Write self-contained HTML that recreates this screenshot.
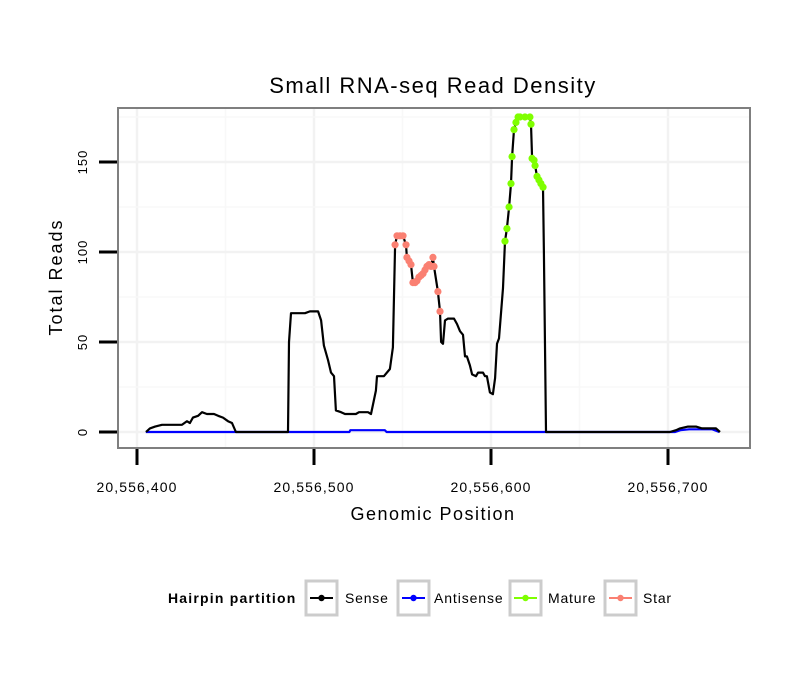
<!DOCTYPE html>
<html><head><meta charset="utf-8">
<style>
body{margin:0;background:#fff;}
svg text{font-family:"Liberation Sans",sans-serif;}
</style></head>
<body>
<svg id="chart" width="810" height="690" xmlns="http://www.w3.org/2000/svg">
<rect width="810" height="690" fill="#fff"/>
<text x="433" y="93" font-size="22" letter-spacing="1.5" text-anchor="middle" fill="#000">Small RNA-seq Read Density</text>
<g id="grid"></g>
<g id="series"></g>
<rect x="118" y="108" width="632" height="340" fill="none" stroke="#7f7f7f" stroke-width="2"/>
<g id="axes"></g>
<text x="433" y="520" font-size="18" letter-spacing="1.5" text-anchor="middle">Genomic Position</text>
<text transform="translate(62,277) rotate(-90)" font-size="18" letter-spacing="2" text-anchor="middle">Total Reads</text>
<g>
<text x="168" y="603" font-size="14" letter-spacing="1.2" font-weight="bold">Hairpin partition</text>
<g>
<rect x="306" y="581" width="31" height="34" fill="#fff" stroke="#cccccc" stroke-width="3"/>
<line x1="310" y1="598" x2="333" y2="598" stroke="#000" stroke-width="2"/><circle cx="321.5" cy="598" r="3.2" fill="#000"/>
<text x="345" y="603" font-size="14" letter-spacing="0.8">Sense</text></g>
<g>
<rect x="398" y="581" width="31" height="34" fill="#fff" stroke="#cccccc" stroke-width="3"/>
<line x1="402" y1="598" x2="425" y2="598" stroke="#0000ff" stroke-width="2"/><circle cx="413.5" cy="598" r="3.2" fill="#0000ff"/>
<text x="434" y="603" font-size="14" letter-spacing="0.9">Antisense</text></g>
<g>
<rect x="510" y="581" width="31" height="34" fill="#fff" stroke="#cccccc" stroke-width="3"/>
<line x1="514" y1="598" x2="537" y2="598" stroke="#7fff00" stroke-width="2"/><circle cx="525.5" cy="598" r="3.2" fill="#7fff00"/>
<text x="548" y="603" font-size="14" letter-spacing="0.8">Mature</text></g>
<g>
<rect x="605" y="581" width="31" height="34" fill="#fff" stroke="#cccccc" stroke-width="3"/>
<line x1="609" y1="598" x2="632" y2="598" stroke="#fa8072" stroke-width="2"/><circle cx="620.5" cy="598" r="3.2" fill="#fa8072"/>
<text x="643" y="603" font-size="14" letter-spacing="0.8">Star</text></g>
</g>
</svg>
<script>
// positions are offsets from 20,556,000
const xTicks = [400, 500, 600, 700];
const xTickLabels = ["20,556,400", "20,556,500", "20,556,600", "20,556,700"];
const yTicks = [0, 50, 100, 150];
const yTickLabels = ["0", "50", "100", "150"];
const sensePos = [405.1,407.3,410.2,414.1,425.4,428.2,429.9,431.6,434.5,436.7,439.5,443.5,445.8,448.6,451.4,453.7,455.9,485.3,485.9,487,494.9,497.7,502.3,504,505.6,507.9,509.6,511.3,512.4,515.3,517.5,523.7,525.4,530.5,532.2,533.3,535,535.6,539.5,542.9,544.6,545.8,546.9,548.6,550.3,552,552.5,553.7,554.8,555.9,557.1,558.2,559.3,560.5,561.6,562.7,563.8,565,566.1,567.2,567.8,570,571.2,571.8,572.9,574,575.7,579.1,580.8,582.5,584.2,585.3,586.4,588.1,589.3,591.5,592.7,595.5,596.6,597.7,599.4,601.1,602.3,603.4,604.5,606.8,607.9,609,610.2,611.3,611.9,613,614.1,615.3,616.4,619.2,622,622.6,623.2,624.3,624.9,626,627.1,628.2,629.4,629.9,631.1,701.1,704.5,706.8,711.3,715.8,719.2,727.1,729.4];
const senseVal = [0,2,3,4,4,6,5,8,9,11,10,10,9,8,6,5,0,0,50,66,66,67,67,62,48,40,33,31,12,11,10,10,11,11,10,15,23,31,31,35,47,104,109,109,109,104,97,95,93,83,83,84,86,87,88,90,92,93,92,97,92,78,67,50,49,62,63,63,60,56,54,42,42,37,32,31,33,33,31,31,22,21,30,49,52,80,106,113,125,138,153,168,172,175,175,175,175,171,152,151,148,142,140,138,136,100,0,0,1,2,3,3,2,2,0];
const antiPos = [405,520,520.5,540,541,704,707,712,725,729];
const antiVal = [0,0,1,1,0,0,1,1.5,1.5,0];
const starPos = [545.8,546.9,548.6,550.3,552,552.5,553.7,554.8,555.9,557.1,558.2,559.3,560.5,561.6,562.7,563.8,565,566.1,567.2,567.8,570,571.2];
const starVal = [104,109,109,109,104,97,95,93,83,83,84,86,87,88,90,92,93,92,97,92,78,67];
const maturePos = [607.9,609,610.2,611.3,611.9,613,614.1,615.3,616.4,619.2,622,622.6,623.2,624.3,624.9,626,627.1,628.2,629.4];
const matureVal = [106,113,125,138,153,168,172,175,175,175,175,171,152,151,148,142,140,138,136];

const NS="http://www.w3.org/2000/svg";
function X(p){return 137+(p-400)*1.77;}
function Y(v){return 432-v*1.8;}
function mk(tag,attrs,parent){const e=document.createElementNS(NS,tag);for(const k in attrs)e.setAttribute(k,attrs[k]);parent.appendChild(e);return e;}
const grid=document.getElementById('grid'), axes=document.getElementById('axes'), series=document.getElementById('series');
for(let p=350;p<=750;p+=50){const x=X(p);if(x<119||x>749)continue;
 const l=mk('line',{x1:x,x2:x,y1:109,y2:447,stroke:(p%100===0)?'#f2f2f2':'#f8f8f8','stroke-width':(p%100===0)?2.5:1.5},grid);
 
 }
for(let v=-25;v<=200;v+=25){const y=Y(v);if(y<109||y>447)continue;
 const l=mk('line',{x1:119,x2:749,y1:y,y2:y,stroke:(v%50===0)?'#f2f2f2':'#f8f8f8','stroke-width':(v%50===0)?2.5:1.5},grid);
 
 }
xTicks.forEach((p,i)=>{const x=X(p);
 const t=mk('line',{x1:x,x2:x,y1:449,y2:465,stroke:'#000','stroke-width':3},axes);
 
 
 const tx=mk('text',{x:x,y:492,'font-size':14,'letter-spacing':1.1,'text-anchor':'middle'},axes);tx.textContent=xTickLabels[i];
 
 });
yTicks.forEach((v,i)=>{const y=Y(v);
 const t=mk('line',{x1:99,x2:117,y1:y,y2:y,stroke:'#000','stroke-width':3},axes);
 
 
 const tx=mk('text',{transform:`translate(87,${y}) rotate(-90)`,'font-size':13,'letter-spacing':1,'text-anchor':'middle'},axes);tx.textContent=yTickLabels[i];
 
 });
function line(pos,val,color,name){const d=pos.map((p,i)=>(i?'L':'M')+X(p).toFixed(1)+','+Y(val[i]).toFixed(1)).join('');
 const e=mk('path',{d:d,fill:'none',stroke:color,'stroke-width':2.2,'stroke-linejoin':'round'},series);
 
 }
line(antiPos,antiVal,'#0000ff','antisense-line');
line(sensePos,senseVal,'#000000','sense-line');
function pts(pos,val,color,name){pos.forEach((p,i)=>{const c=mk('circle',{cx:X(p),cy:Y(val[i]),r:3.6,fill:color},series);
 
 });}
pts(starPos,starVal,'#fa8072','star-point');
pts(maturePos,matureVal,'#7fff00','mature-point');
</script>
</body></html>
